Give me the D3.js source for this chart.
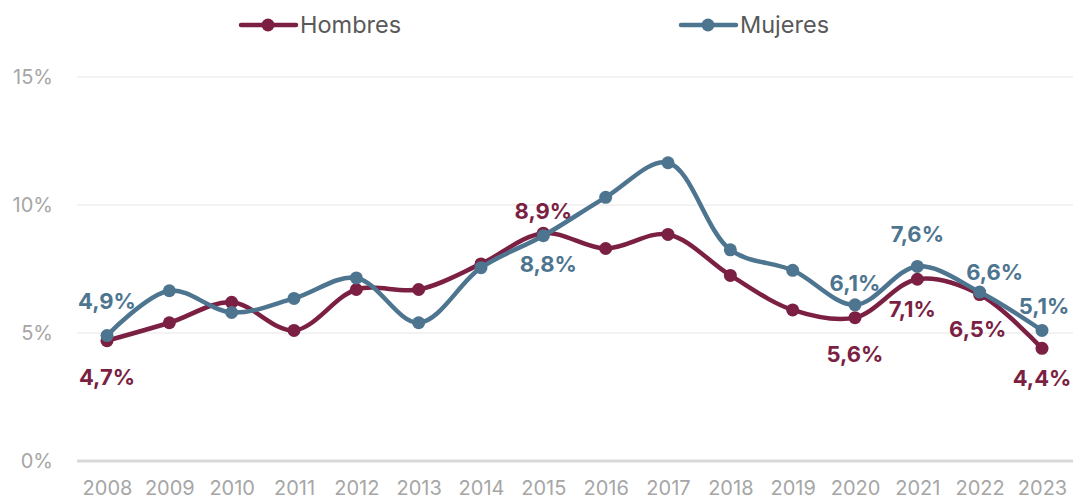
<!DOCTYPE html>
<html>
<head>
<meta charset="utf-8">
<script src="https://cdn.jsdelivr.net/npm/d3@7"></script>
<style>
  body { margin: 0; background: #fff; }
  #chart { width: 1088px; height: 500px; }
  text { font-family: 'Inter', 'Noto Sans', sans-serif; }
</style>
</head>
<body>
<div id="chart"></div>
<script>
// data
const years = [2008, 2009, 2010, 2011, 2012, 2013, 2014, 2015, 2016, 2017, 2018, 2019, 2020, 2021, 2022, 2023]
const hombres = [4.7, 5.4, 6.2, 5.1, 6.7, 6.7, 7.7, 8.9, 8.3, 8.85, 7.25, 5.9, 5.6, 7.1, 6.5, 4.4]
const mujeres = [4.9, 6.65, 5.8, 6.35, 7.15, 5.4, 7.55, 8.8, 10.3, 11.65, 8.25, 7.45, 6.1, 7.6, 6.6, 5.1]
const yTicks = [0, 5, 10, 15]

// which points carry a label, and where it sits
const hombresLabels = [
  { i: 0, dx: 0, dy: 37 },
  { i: 7, dx: 0, dy: -22 },
  { i: 12, dx: 0, dy: 37 },
  { i: 13, dx: -5, dy: 30 },
  { i: 14, dx: -2, dy: 35 },
  { i: 15, dx: 0, dy: 30 }
]
const mujeresLabels = [
  { i: 0, dx: 0, dy: -34 },
  { i: 7, dx: 5, dy: 29 },
  { i: 12, dx: 0, dy: -22 },
  { i: 13, dx: 0, dy: -32 },
  { i: 14, dx: 15, dy: -20 },
  { i: 15, dx: 2, dy: -24 }
]

const colorH = '#7b1f43'
const colorM = '#4e7590'

const margin = { top: 77, right: 15, bottom: 39, left: 77 },
  width = 1088 - margin.left - margin.right,
  height = 500 - margin.top - margin.bottom

const svg = d3.select('#chart')
  .append('svg')
  .attr('width', 1088)
  .attr('height', 500)

const g = svg.append('g')
  .attr('transform', 'translate(' + margin.left + ',' + margin.top + ')')

const x = d3.scalePoint()
  .domain(years)
  .range([30, width - 31])

const y = d3.scaleLinear()
  .domain([0, 15])
  .range([height, 0])

// gridlines
g.selectAll('.grid')
  .data(yTicks.filter(d => d > 0))
  .enter().append('line')
  .attr('x1', 0)
  .attr('x2', width)
  .attr('y1', d => y(d))
  .attr('y2', d => y(d))
  .attr('stroke', '#e6e6e6')
  .attr('stroke-width', 1)

// baseline
g.append('line')
  .attr('x1', 0)
  .attr('x2', width)
  .attr('y1', y(0))
  .attr('y2', y(0))
  .attr('stroke', '#d9d9d9')
  .attr('stroke-width', 3)

// y axis labels
const yAxis = g.append('g')
  .call(d3.axisLeft(y).tickValues(yTicks).tickSize(0).tickPadding(24).tickFormat(d => d + '%'))
yAxis.select('.domain').remove()
yAxis.selectAll('text')
  .attr('fill', '#a6a6a6')
  .style('font-size', '20px')

// x axis labels
const xAxis = g.append('g')
  .attr('transform', 'translate(0,' + height + ')')
  .call(d3.axisBottom(x).tickSize(0).tickPadding(20).tickFormat(d => d))
xAxis.select('.domain').remove()
xAxis.selectAll('text')
  .attr('fill', '#a6a6a6')
  .style('font-size', '20px')

const line = d3.line()
  .x((d, i) => x(years[i]))
  .y(d => y(d))
  .curve(d3.curveCatmullRom.alpha(0.5))

function drawSeries(values, color, labels) {
  g.append('path')
    .datum(values)
    .attr('fill', 'none')
    .attr('stroke', color)
    .attr('stroke-width', 4.5)
    .attr('stroke-linejoin', 'round')
    .attr('d', line)

  g.selectAll(null)
    .data(values)
    .enter().append('circle')
    .attr('cx', (d, i) => x(years[i]))
    .attr('cy', d => y(d))
    .attr('r', 6.5)
    .attr('fill', color)

  g.selectAll(null)
    .data(labels)
    .enter().append('text')
    .attr('x', d => x(years[d.i]) + d.dx)
    .attr('y', d => y(values[d.i]) + d.dy)
    .attr('dy', '0.35em')
    .attr('text-anchor', 'middle')
    .attr('fill', color)
    .style('font-size', '22px')
    .style('font-weight', 'bold')
    .text(d => String(values[d.i].toFixed(1)).replace('.', ',') + '%')
}

drawSeries(hombres, colorH, hombresLabels)
drawSeries(mujeres, colorM, mujeresLabels)

// legend
const legendItems = [
  { name: 'Hombres', color: colorH, x: 241 },
  { name: 'Mujeres', color: colorM, x: 681 }
]
const legend = svg.append('g').attr('class', 'legend')
legendItems.forEach(item => {
  legend.append('line')
    .attr('x1', item.x)
    .attr('x2', item.x + 55)
    .attr('y1', 25)
    .attr('y2', 25)
    .attr('stroke', item.color)
    .attr('stroke-width', 4.5)
    .attr('stroke-linecap', 'round')
  legend.append('circle')
    .attr('cx', item.x + 27)
    .attr('cy', 25)
    .attr('r', 6.5)
    .attr('fill', item.color)
  legend.append('text')
    .attr('x', item.x + 59)
    .attr('y', 25)
    .attr('dy', '0.35em')
    .attr('fill', '#595959')
    .style('font-size', '23.5px')
    .text(item.name)
})
</script>
</body>
</html>
